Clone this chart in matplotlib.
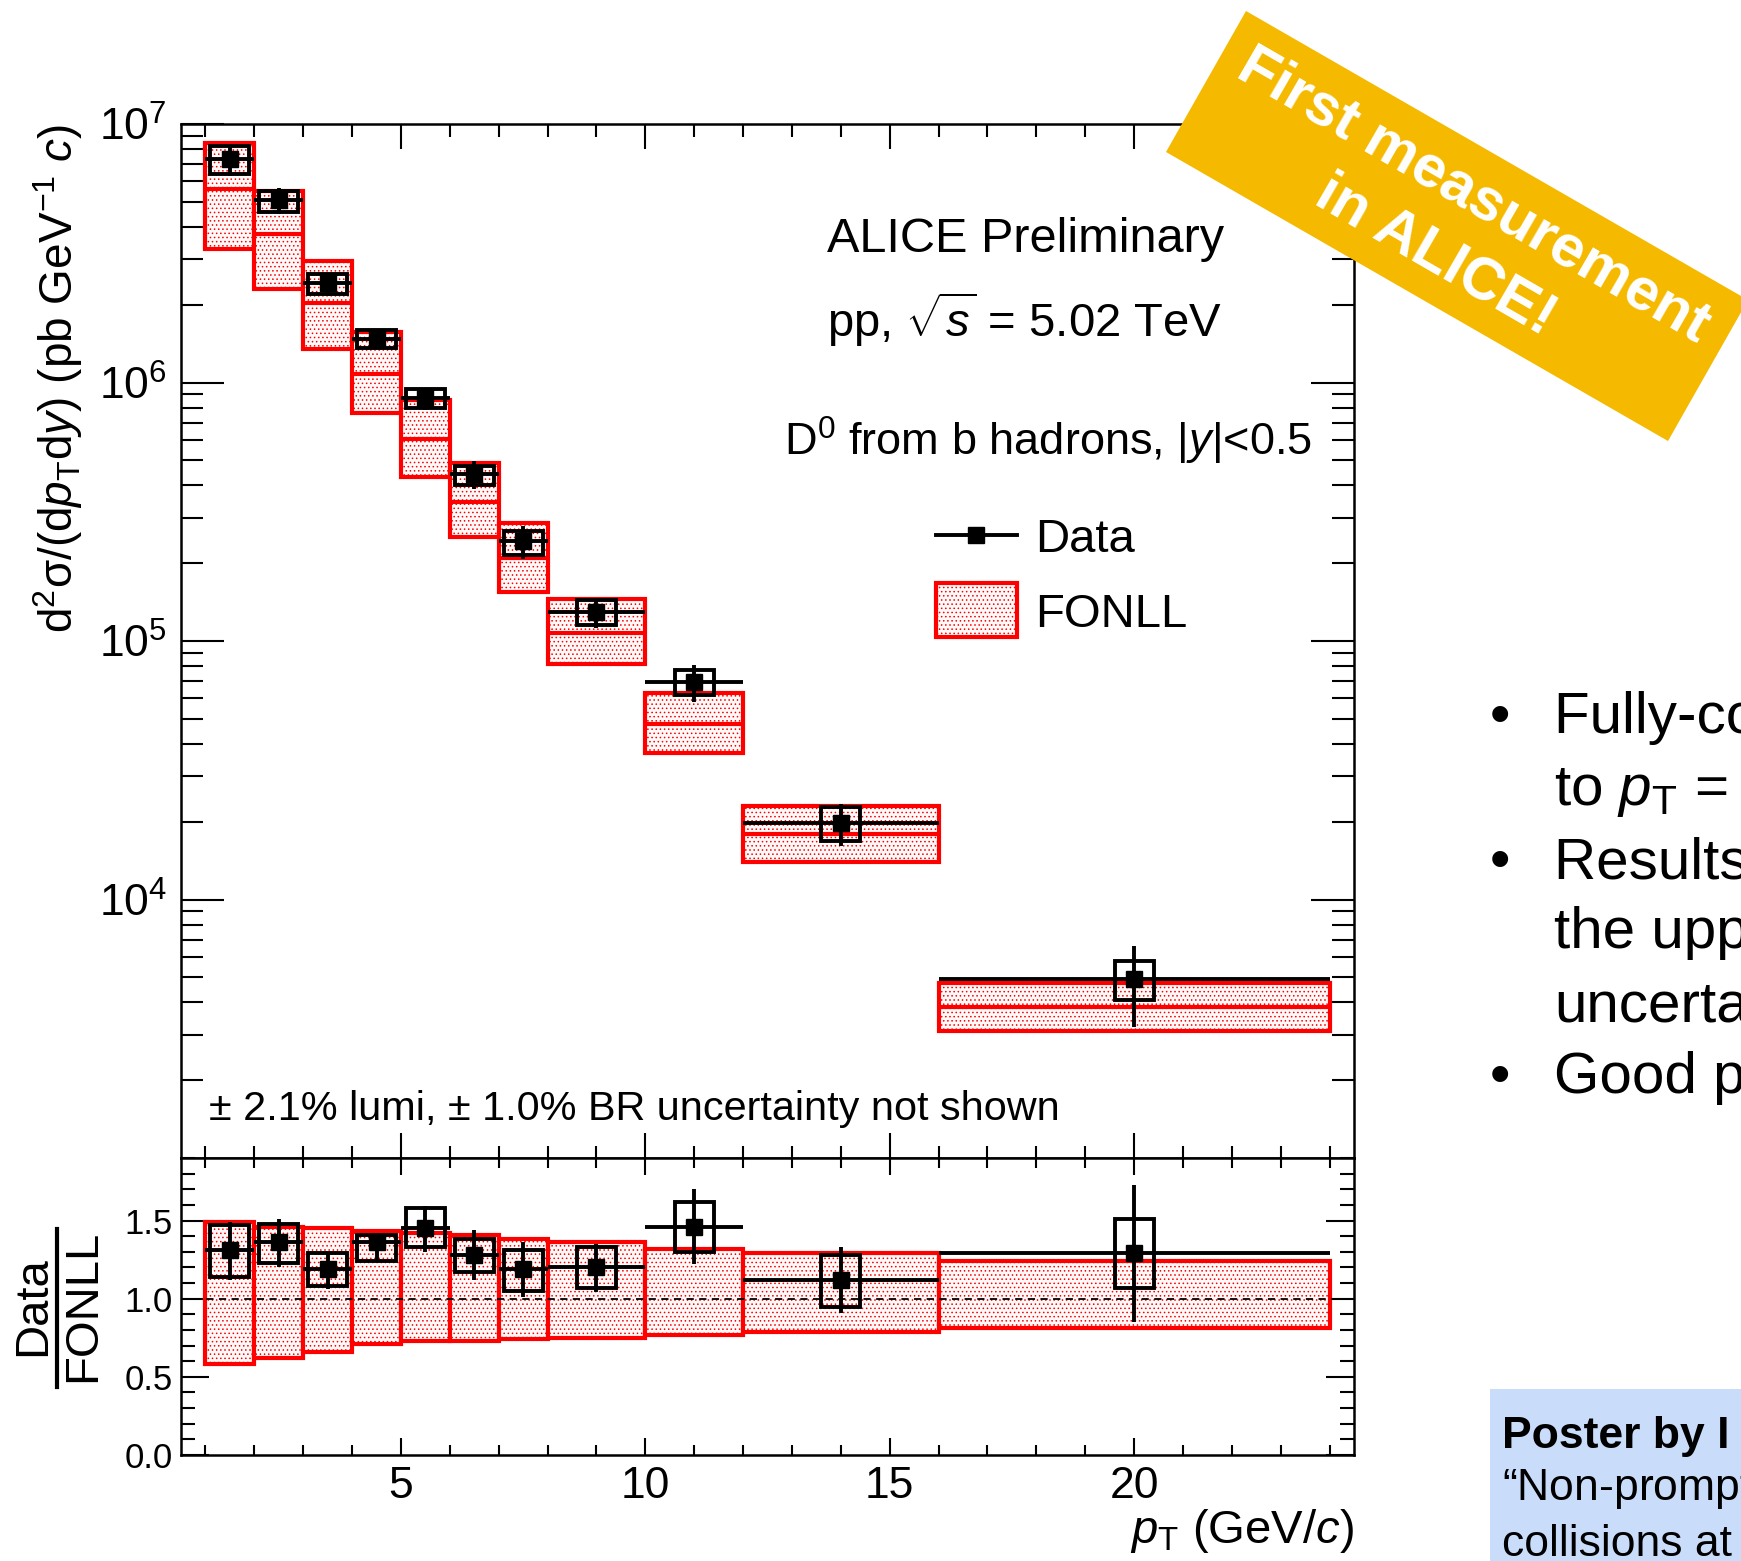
import numpy as np
import matplotlib
matplotlib.use("Agg")
import matplotlib.pyplot as plt
from matplotlib.ticker import MultipleLocator, FixedLocator, LogLocator, NullFormatter, FormatStrFormatter
from matplotlib.patches import Rectangle, Polygon
from matplotlib.lines import Line2D

plt.rcParams['font.family'] = ['Liberation Sans', 'DejaVu Sans']
plt.rcParams['mathtext.fontset'] = 'custom'
plt.rcParams['mathtext.rm'] = 'Liberation Sans'
plt.rcParams['mathtext.it'] = 'Liberation Sans:italic'
plt.rcParams['mathtext.bf'] = 'Liberation Sans:bold'
plt.rcParams['hatch.color'] = 'red'
plt.rcParams['hatch.linewidth'] = 0.6

# pT bins (GeV/c)
bin_lo = np.array([1, 2, 3, 4, 5, 6, 7, 8, 10, 12, 16])
bin_hi = np.array([2, 3, 4, 5, 6, 7, 8, 10, 12, 16, 24])
pt = np.array([1.5, 2.5, 3.5, 4.5, 5.5, 6.5, 7.5, 9, 11, 14, 20])

# cross section (pb GeV^-1 c)
data = np.array([7.33e6, 5.07e6, 2.42e6, 1.47e6, 8.74e5, 4.41e5, 2.43e5, 1.29e5, 6.93e4, 1.98e4, 4.91e3])
stat_hi = np.array([8.35e6, 5.63e6, 2.66e6, 1.57e6, 9.56e5, 4.96e5, 2.78e5, 1.46e5, 8.07e4, 2.35e4, 6.59e3])
stat_lo = np.array([6.28e6, 4.47e6, 2.17e6, 1.36e6, 7.82e5, 3.86e5, 2.07e5, 1.12e5, 5.79e4, 1.61e4, 3.22e3])
syst_hi = np.array([8.23e6, 5.53e6, 2.62e6, 1.59e6, 9.47e5, 4.77e5, 2.67e5, 1.44e5, 7.69e4, 2.28e4, 5.76e3])
syst_lo = np.array([6.41e6, 4.58e6, 2.20e6, 1.36e6, 7.97e5, 4.02e5, 2.15e5, 1.15e5, 6.17e4, 1.68e4, 4.08e3])
fonll_c = np.array([5.61e6, 3.74e6, 2.03e6, 1.08e6, 6.03e5, 3.45e5, 2.10e5, 1.07e5, 4.77e4, 1.79e4, 3.84e3])
fonll_hi = np.array([8.45e6, 5.49e6, 2.95e6, 1.57e6, 8.55e5, 4.87e5, 2.87e5, 1.46e5, 6.29e4, 2.29e4, 4.76e3])
fonll_lo = np.array([3.27e6, 2.29e6, 1.35e6, 7.64e5, 4.31e5, 2.53e5, 1.55e5, 8.13e4, 3.68e4, 1.40e4, 3.09e3])

# Data / FONLL
ratio = np.array([1.31, 1.36, 1.19, 1.36, 1.45, 1.28, 1.19, 1.20, 1.46, 1.12, 1.29])
ratio_stat_hi = np.array([1.49, 1.51, 1.30, 1.42, 1.59, 1.44, 1.36, 1.35, 1.70, 1.33, 1.73])
ratio_stat_lo = np.array([1.12, 1.20, 1.06, 1.25, 1.30, 1.12, 1.01, 1.04, 1.22, 0.91, 0.85])
ratio_syst_hi = np.array([1.47, 1.48, 1.29, 1.41, 1.58, 1.38, 1.31, 1.33, 1.62, 1.28, 1.51])
ratio_syst_lo = np.array([1.14, 1.23, 1.08, 1.24, 1.33, 1.17, 1.05, 1.07, 1.30, 0.95, 1.07])
fonll_ratio_hi = np.array([1.49, 1.46, 1.45, 1.43, 1.42, 1.41, 1.38, 1.36, 1.32, 1.29, 1.24])
fonll_ratio_lo = np.array([0.58, 0.62, 0.66, 0.71, 0.73, 0.73, 0.74, 0.75, 0.77, 0.79, 0.81])

W, H = 1741, 1561
fig = plt.figure(figsize=(W / 100, H / 100), dpi=100)


def fx(px):
    return px / W


def fy(py):
    return 1 - py / H


ax = fig.add_axes([fx(181), fy(1158), fx(1354) - fx(181), fy(124) - fy(1158)])
axr = fig.add_axes([fx(181), fy(1455), fx(1354) - fx(181), fy(1158) - fy(1455)])

RED_LW = 3.0
BLK_LW = 2.8
box_w = 0.8
FILL = '#fffafa'


def draw_panel(a, y, s_lo, s_hi, e_lo, e_hi, f_lo, f_hi, f_c=None):
    a.bar(bin_lo, f_hi - f_lo, bottom=f_lo, width=bin_hi - bin_lo, align='edge',
          facecolor=FILL, edgecolor='red', hatch='....', lw=RED_LW, zorder=2)
    if f_c is not None:
        a.hlines(f_c, bin_lo, bin_hi, colors='red', lw=RED_LW, zorder=3)
    a.bar(pt, s_hi - s_lo, bottom=s_lo, width=box_w, fill=False,
          edgecolor='black', lw=BLK_LW, zorder=4)
    a.errorbar(pt, y, xerr=[pt - bin_lo, bin_hi - pt], yerr=[y - e_lo, e_hi - y],
               fmt='s', color='black', ms=11, elinewidth=BLK_LW, capsize=0, zorder=5)


draw_panel(ax, data, syst_lo, syst_hi, stat_lo, stat_hi, fonll_lo, fonll_hi, fonll_c)
draw_panel(axr, ratio, ratio_syst_lo, ratio_syst_hi, ratio_stat_lo, ratio_stat_hi,
           fonll_ratio_lo, fonll_ratio_hi)
axr.axhline(1.0, color='black', ls=(0, (4, 3)), lw=1.3, zorder=6)

for a in (ax, axr):
    a.set_xlim(0.5, 24.5)
    a.xaxis.set_major_locator(MultipleLocator(5))
    a.xaxis.set_minor_locator(MultipleLocator(1))
    for sp in a.spines.values():
        sp.set_linewidth(1.8)

ax.set_yscale('log')
ax.set_ylim(1e3, 1e7)
ax.yaxis.set_major_locator(FixedLocator([1e4, 1e5, 1e6, 1e7]))
ax.yaxis.set_minor_locator(LogLocator(base=10, subs=np.arange(2, 10)))
ax.yaxis.set_minor_formatter(NullFormatter())
ax.tick_params(axis='x', which='both', labelbottom=False)
ax.tick_params(which='both', direction='in', top=True, right=True, width=1.5)
ax.tick_params(axis='x', which='major', length=18)
ax.tick_params(axis='x', which='minor', length=9)
ax.tick_params(axis='y', which='major', length=31, labelsize=32, pad=10)
ax.tick_params(axis='y', which='minor', length=16)

axr.set_ylim(0, 1.9)
axr.yaxis.set_major_locator(FixedLocator([0.0, 0.5, 1.0, 1.5]))
axr.yaxis.set_minor_locator(MultipleLocator(0.1))
axr.yaxis.set_major_formatter(FormatStrFormatter('%.1f'))
axr.tick_params(which='both', direction='in', top=True, right=True, width=1.5)
axr.tick_params(axis='x', which='major', length=12, labelsize=32, pad=8)
axr.tick_params(axis='x', which='minor', length=7)
axr.tick_params(axis='y', which='major', length=20, labelsize=25, pad=6)
axr.tick_params(axis='y', which='minor', length=10)

# axis titles
fig.text(fx(58), fy(124), r'd$^{2}$σ/(d$p_{\rm T}$d$y$) (pb GeV$^{-1}$ $c$)',
         rotation=90, ha='center', va='top', fontsize=33)
fig.text(fx(1354), fy(1531), r'$p_{\rm T}$ (GeV/$c$)', ha='right', va='center', fontsize=34)
fig.text(fx(33), fy(1306), 'Data', rotation=90, ha='center', va='center', fontsize=34)
fig.text(fx(83), fy(1306), 'FONLL', rotation=90, ha='center', va='center', fontsize=34)
fig.add_artist(Line2D([fx(57), fx(57)], [fy(1229), fy(1387)], color='black', lw=3))

# labels inside the plot
fig.text(fx(827), fy(252), 'ALICE Preliminary', fontsize=35, va='baseline')
fig.text(fx(827), fy(337), r'pp, $\sqrt{s}$ = 5.02 TeV', fontsize=34, va='baseline')
fig.text(fx(784), fy(456), r'D$^{0}$ from b hadrons, |$y$|<0.5', fontsize=32.5, va='baseline')
fig.text(fx(209), fy(1120), '± 2.1% lumi, ± 1.0% BR uncertainty not shown', fontsize=29.8,
         va='baseline')

# legend
fig.add_artist(Line2D([fx(936), fx(1017)], [fy(535), fy(535)], color='black', lw=BLK_LW))
fig.add_artist(Line2D([fx(976)], [fy(535)], color='black', marker='s', ms=11))
fig.text(fx(1035), fy(552), 'Data', fontsize=34, va='baseline')
fig.add_artist(Rectangle((fx(936), fy(637)), fx(1017) - fx(936), fy(583) - fy(637),
                         transform=fig.transFigure, facecolor=FILL, edgecolor='red',
                         hatch='....', lw=RED_LW))
fig.text(fx(1035), fy(627), 'FONLL', fontsize=34, va='baseline')

# slide decorations
corners = [(1246, 11), (1166, 152), (1668, 441), (1748, 300)]
fig.add_artist(Polygon([(fx(x), fy(y)) for x, y in corners], closed=True,
                       transform=fig.transFigure, facecolor='#F5B900', edgecolor='none',
                       zorder=10))
fig.text(fx(1474), fy(196), 'First measurement', rotation=-30, rotation_mode='anchor',
         ha='center', va='center', fontsize=43, fontweight='bold', color='white', zorder=11)
fig.text(fx(1435), fy(256), 'in ALICE!', rotation=-30, rotation_mode='anchor',
         ha='center', va='center', fontsize=43, fontweight='bold', color='white', zorder=11)

bullet_lines = [
    ('•', 'Fully-corrected cross section'),
    ('', r'to $p_{\rm T}$ = 24 GeV/$c$'),
    ('•', 'Results lie on'),
    ('', 'the upper edge of FONLL'),
    ('', 'uncertainties'),
    ('•', 'Good precision'),
]
baselines = [733, 805, 878, 948, 1021, 1093]
for (b, t), yb in zip(bullet_lines, baselines):
    if b:
        fig.text(fx(1500), fy(yb), b, fontsize=42, ha='center', va='baseline')
    fig.text(fx(1554), fy(yb), t, fontsize=42, va='baseline')

fig.add_artist(Rectangle((fx(1490), fy(1600)), fx(1800) - fx(1490), fy(1389) - fy(1600),
                         transform=fig.transFigure, facecolor='#C9DDFA', edgecolor='none'))
fig.text(fx(1502), fy(1448), 'Poster by I', fontsize=32, fontweight='bold', va='baseline')
fig.text(fx(1502), fy(1502), '“Non-prompt D$^{0}$ production', fontsize=32, va='baseline')
fig.text(fx(1502), fy(1556), 'collisions at 5.02 TeV', fontsize=32, va='baseline')

fig.savefig('out.png', dpi=100)
